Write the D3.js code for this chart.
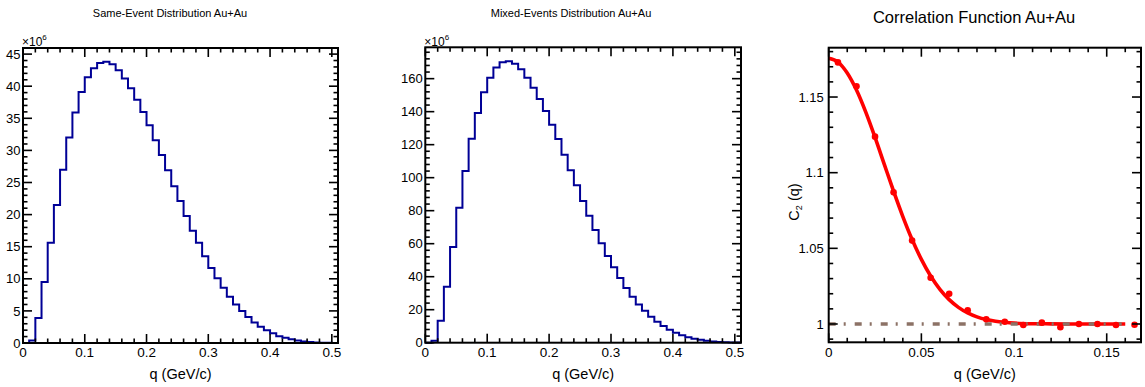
<!DOCTYPE html>
<html><head><meta charset="utf-8">
<script src="https://cdn.jsdelivr.net/npm/d3@7"></script>
<style>
body{margin:0;background:#fff}
svg{display:block}
text{font-family:"Liberation Sans",Arial,Helvetica,sans-serif;fill:#000}
</style>
</head><body>
<svg id="c" width="1145" height="387"></svg>
<script>
// ---------- data ----------
const binLow = [0.00,0.01,0.02,0.03,0.04,0.05,0.06,0.07,0.08,0.09,0.10,0.11,0.12,0.13,0.14,0.15,0.16,0.17,0.18,0.19,0.20,0.21,0.22,0.23,0.24,0.25,0.26,0.27,0.28,0.29,0.30,0.31,0.32,0.33,0.34,0.35,0.36,0.37,0.38,0.39,0.40,0.41,0.42,0.43,0.44,0.45,0.46,0.47,0.48,0.49,0.50];
const histUpper = 0.51;
const sameEvent = [0,0.4,3.9,9.5,15.6,21.5,27.0,32.0,35.9,39.1,41.4,42.8,43.6,43.8,43.4,42.5,41.2,39.7,37.9,36.0,33.9,31.6,29.3,26.9,24.4,22.1,19.8,17.5,15.6,13.5,11.7,10.1,8.6,7.2,6.0,5.0,4.05,3.2,2.55,2.0,1.5,1.05,0.8,0.57,0.4,0.25,0.15,0.08,0.04,0.02,0.01];
const mixedEvent = [0,1.2,13.3,33.9,58.0,81.8,104.1,123.6,139.2,151.8,160.6,166.7,169.9,170.5,169.1,165.7,160.6,154.5,147.7,140.4,132.1,123.5,113.9,104.5,95.4,85.9,77.0,68.3,60.2,52.5,45.7,39.2,33.2,27.9,23.2,19.4,15.8,12.7,10.1,7.9,6.1,4.5,3.3,2.4,1.8,1.2,0.8,0.5,0.3,0.15,0.08];
const histXTicks = [0,0.1,0.2,0.3,0.4,0.5];
const sameYTicks = [0,5,10,15,20,25,30,35,40,45];
const mixedYTicks = [0,20,40,60,80,100,120,140,160];

const corrQ  = [0.005,0.015,0.025,0.035,0.045,0.055,0.065,0.075,0.085,0.095,0.105,0.115,0.125,0.135,0.145,0.155,0.165];
const corrC2 = [1.1729,1.1571,1.1238,1.0870,1.0551,1.0306,1.0200,1.0090,1.0031,1.0015,0.9993,1.0009,0.9978,1.0000,1.0000,0.9993,0.9995];
const fitQ  = [0,0.005,0.01,0.015,0.02,0.025,0.03,0.035,0.04,0.045,0.05,0.055,0.06,0.065,0.07,0.075,0.08,0.085,0.09,0.095,0.10,0.11,0.12,0.13,0.14,0.15,0.16];
const fitC2 = [1.1756,1.1731,1.1659,1.1546,1.1400,1.1233,1.1055,1.0878,1.0710,1.0558,1.0427,1.0317,1.0229,1.0161,1.0110,1.0073,1.0047,1.0029,1.0018,1.0011,1.0006,1.0002,1.0001,1.0000,1.0000,1.0000,1.0000];
const baseQ  = [0,0.16];
const baseC2 = [1,1];
const corrXTicks = [0,0.05,0.1,0.15];
const corrYTicks = [1,1.05,1.1,1.15];

const titles = ["Same-Event Distribution Au+Au","Mixed-Events Distribution Au+Au","Correlation Function Au+Au"];
const xTitle = "q (GeV/c)";

// ---------- drawing ----------
const svg = d3.select("#c");
const MAJ = 9, MIN = 4.5;

function frame(g, x, y, xMinorStep, yMinorStep, xTicks, yTicks, yLabGap){
  const [x0,x1] = x.range(), [y0,y1] = y.range(); // y0 bottom, y1 top
  const [dx0,dx1] = x.domain(), [dy0,dy1] = y.domain();
  const eps = 1e-9;
  const xMinor = d3.range(Math.ceil(dx0/xMinorStep-eps)*xMinorStep, dx1+eps, xMinorStep).filter(v=>v<=dx1);
  const yMinor = d3.range(Math.ceil(dy0/yMinorStep-eps)*yMinorStep, dy1+eps, yMinorStep).filter(v=>v<=dy1 && v>=dy0);
  const isMaj = (v, arr) => arr.some(t => Math.abs(t-v) < 1e-7);
  const tk = g.append("g").attr("stroke","#000").attr("stroke-width",1.6);
  xMinor.forEach(v=>{
    const L = isMaj(v,xTicks)?MAJ:MIN, px = x(v);
    tk.append("line").attr("x1",px).attr("x2",px).attr("y1",y0).attr("y2",y0-L);
    tk.append("line").attr("x1",px).attr("x2",px).attr("y1",y1).attr("y2",y1+L);
  });
  yMinor.forEach(v=>{
    const L = isMaj(v,yTicks)?MAJ:MIN, py = y(v);
    tk.append("line").attr("x1",x0).attr("x2",x0+L).attr("y1",py).attr("y2",py);
    tk.append("line").attr("x1",x1).attr("x2",x1-L).attr("y1",py).attr("y2",py);
  });
  g.append("rect").attr("x",x0).attr("y",y1).attr("width",x1-x0).attr("height",y0-y1)
    .attr("fill","none").attr("stroke","#000").attr("stroke-width",2);
  xTicks.forEach(v=>{
    g.append("text").attr("x",x(v)).attr("y",357).attr("text-anchor","middle")
      .attr("font-size",13.5).text(String(v));
  });
  yTicks.forEach(v=>{
    g.append("text").attr("x",x0-yLabGap).attr("y",y(v)).attr("dy","0.36em").attr("text-anchor","end")
      .attr("font-size",13).text(String(v));
  });
  g.append("text").attr("x",(x0+x1)/2).attr("y",379).attr("text-anchor","middle")
    .attr("font-size",14.5).text(xTitle);
}

function histPanel(vals, left, right, top, bottom, ymax, yTicks, yMinorStep, title, titleX){
  const g = svg.append("g");
  const x = d3.scaleLinear().domain([0,histUpper]).range([left,right]);
  const y = d3.scaleLinear().domain([0,ymax]).range([bottom,top]);
  const pts = binLow.map((q,i)=>[q,vals[i]]);
  pts.push([histUpper, vals[vals.length-1]]);
  const line = d3.line().x(d=>x(d[0])).y(d=>y(d[1])).curve(d3.curveStepAfter);
  g.append("path").attr("d",line(pts)).attr("fill","none").attr("stroke","#000096").attr("stroke-width",2);
  frame(g, x, y, 0.02, yMinorStep, histXTicks, yTicks, 2.5);
  g.append("text").attr("x",titleX).attr("y",17).attr("text-anchor","middle").attr("font-size",11).text(title);
  const t = g.append("text").attr("x",left-1).attr("y",46).attr("font-size",12);
  t.append("tspan").text("\u00d710");
  t.append("tspan").attr("dy",-6).attr("font-size",8).text("6");
}

histPanel(sameEvent, 23, 338, 48, 343, 45.95, sameYTicks, 1, titles[0], 170);
histPanel(mixedEvent, 425.3, 741, 47.3, 342.7, 179.0, mixedYTicks, 4, titles[1], 571);

// correlation panel
(function(){
  const g = svg.append("g");
  const left=828.7, right=1141, top=47.7, bottom=342.3;
  const x = d3.scaleLinear().domain([0,0.1685]).range([left,right]);
  const y = d3.scaleLinear().domain([0.9879,1.1826]).range([bottom,top]);
  const fitLine = d3.line().x((d,i)=>x(fitQ[i])).y(d=>y(d)).curve(d3.curveMonotoneX);
  g.append("path").attr("d",fitLine(fitC2)).attr("fill","none").attr("stroke","#ff0000").attr("stroke-width",3.6);
  const baseLine = d3.line().x((d,i)=>x(baseQ[i])).y(d=>y(d));
  g.append("path").attr("d",baseLine(baseC2)).attr("fill","none").attr("stroke","#8c7266")
    .attr("stroke-width",3.5).attr("stroke-dasharray","7,8,2,9");
  g.selectAll("circle.p").data(corrC2).enter().append("circle")
    .attr("cx",(d,i)=>x(corrQ[i])).attr("cy",d=>y(d)).attr("r",3.3).attr("fill","#ff0000");
  frame(g, x, y, 0.01, 0.01, corrXTicks, corrYTicks, 5);
  g.append("text").attr("x",974).attr("y",22.5).attr("text-anchor","middle").attr("font-size",16.5).text(titles[2]);
  const t = g.append("text").attr("transform","translate(799,202) rotate(-90)").attr("text-anchor","middle").attr("font-size",14.5);
  t.append("tspan").text("C");
  t.append("tspan").attr("dy",3).attr("font-size",9).text("2");
  t.append("tspan").attr("dy",-3).text(" (q)");
})();
</script>
</body></html>
